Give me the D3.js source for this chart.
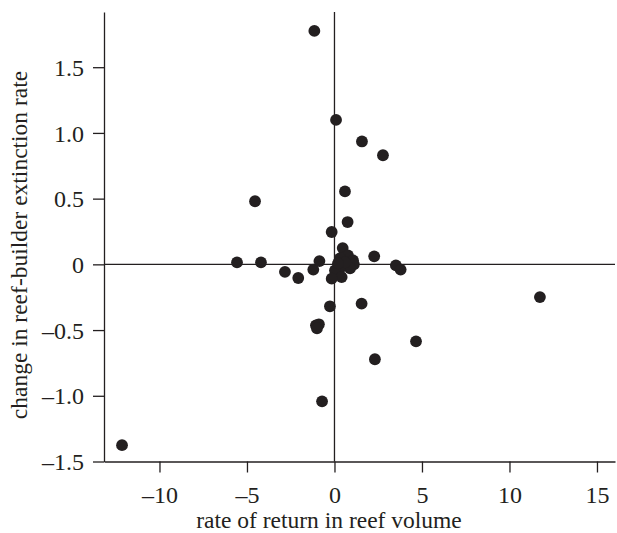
<!DOCTYPE html>
<html>
<head>
<meta charset="utf-8">
<script src="https://cdn.jsdelivr.net/npm/d3@7"></script>
<style>
  body { margin: 0; background: #fff; }
  svg text { font-family: "Liberation Serif", "Times New Roman", serif; fill: #231f20; }
  .axis path, .axis line { stroke: #231f20; stroke-width: 1.3; }
  .axis text { font-size: 24px; }
  .label { font-size: 23.5px; }
</style>
</head>
<body>
<div id="chart"></div>
<script>
const width = 617;
const height = 533;

// values: rate of return (x) and change in extinction rate (y)
const returnRate = [
  -12.14, -5.57, -4.2, -4.54, -2.83, -2.07, -1.21, -0.86, -1.15, 0.09,
  1.57, 2.77, 0.6, 0.75, -0.16, 0.47, 2.27, 3.51, 3.78, 1.55,
  -0.26, -1.06, -0.89, -1.0, -0.71, 2.31, 4.66, 11.74,
  0.77, 0.31, 1.06, 1.11, 0.89, 0.31, 0.03, 0.41, -0.16, 0.6, 0.2
];
const extinctionChange = [
  -1.376, 0.015, 0.015, 0.48, -0.057, -0.104, -0.04, 0.025, 1.776, 1.099,
  0.935, 0.83, 0.555, 0.322, 0.246, 0.124, 0.061, -0.008, -0.04, -0.299,
  -0.319, -0.464, -0.456, -0.487, -1.042, -0.722, -0.586, -0.249,
  0.068, 0.046, 0.03, 0.0, -0.03, -0.03, -0.046, -0.097, -0.109, 0.015, 0.008
];
const xTicks = [-10, -5, 0, 5, 10, 15];
const yTicks = [-1.5, -1.0, -0.5, 0, 0.5, 1.0, 1.5];

const points = returnRate.map((d, i) => ({ x: d, y: extinctionChange[i] }));

const svg = d3.select("#chart").append("svg")
    .attr("width", width)
    .attr("height", height);

const xScale = d3.scaleLinear().domain([-13.17, 16.03]).range([104, 615]);
const yScale = d3.scaleLinear().domain([-1.5, 1.92]).range([461.5, 12]);

const xaxis = d3.axisBottom(xScale)
    .tickValues(xTicks)
    .tickFormat(d => (d < 0 ? "\u2013" : "") + Math.abs(d))
    .tickSize(11)
    .tickSizeOuter(0)
    .tickPadding(12);

const yaxis = d3.axisLeft(yScale)
    .tickValues(yTicks)
    .tickFormat(d => d === 0 ? "0" : (d < 0 ? "\u2013" : "") + Math.abs(d).toFixed(1))
    .tickSize(11)
    .tickSizeOuter(0)
    .tickPadding(9);

svg.append("g")
    .attr("class", "axis")
    .attr("transform", "translate(0," + yScale(-1.5) + ")")
    .call(xaxis)
    .selectAll("text").attr("dy", "0.78em");

svg.append("g")
    .attr("class", "axis")
    .attr("transform", "translate(" + xScale.range()[0] + ",0)")
    .call(yaxis)
    .selectAll("text").attr("dy", "0.34em");

svg.selectAll(".domain").attr("stroke-width", 1.4);

// zero reference lines
svg.append("line")
    .attr("x1", xScale(0)).attr("x2", xScale(0))
    .attr("y1", yScale.range()[1]).attr("y2", yScale(-1.5))
    .attr("stroke", "#231f20").attr("stroke-width", 1.3);

svg.append("line")
    .attr("x1", xScale.range()[0]).attr("x2", xScale.range()[1])
    .attr("y1", yScale(0)).attr("y2", yScale(0))
    .attr("stroke", "#231f20").attr("stroke-width", 1.3);

svg.selectAll("circle.point")
    .data(points)
    .enter()
    .append("circle")
    .attr("class", "point")
    .attr("cx", d => xScale(d.x))
    .attr("cy", d => yScale(d.y))
    .attr("r", 5.9)
    .attr("fill", "#231f20");

svg.append("text")
    .attr("class", "label")
    .attr("x", 329)
    .attr("y", 528)
    .attr("text-anchor", "middle")
    .text("rate of return in reef volume");

svg.append("text")
    .attr("class", "label")
    .attr("transform", "translate(27,245) rotate(-90)")
    .attr("text-anchor", "middle")
    .text("change in reef-builder extinction rate");
</script>
</body>
</html>
